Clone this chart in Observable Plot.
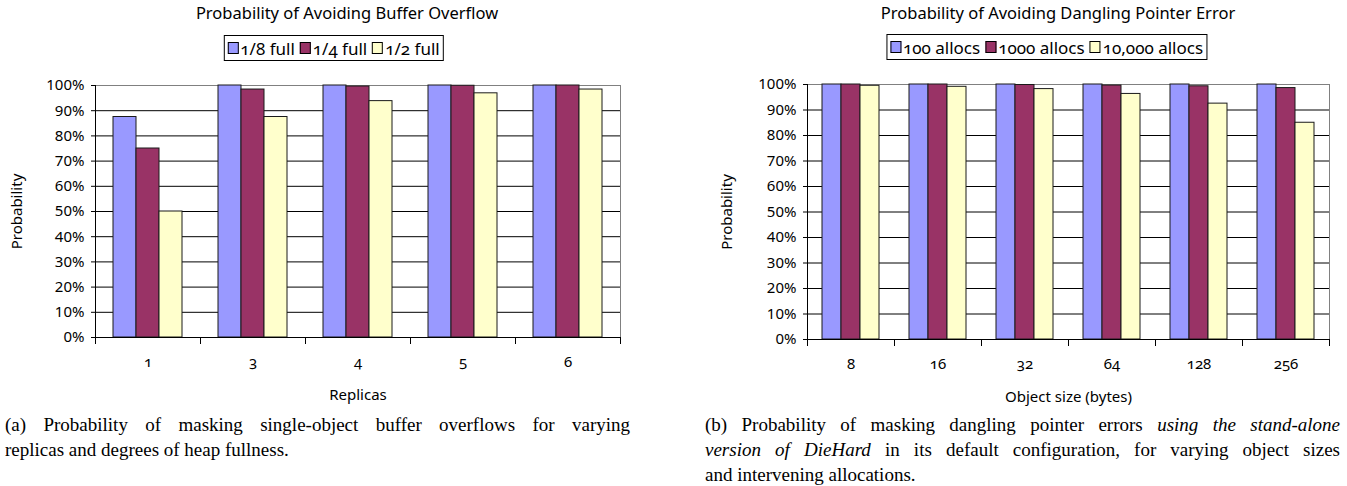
<!DOCTYPE html>
<html>
<head>
<meta charset="utf-8">
<script src="https://cdn.jsdelivr.net/npm/d3@7"></script>
<script src="https://cdn.jsdelivr.net/npm/@observablehq/plot@0.6"></script>
<style>
  html, body { margin: 0; padding: 0; background: #fff; }
  #root { position: relative; width: 1347px; height: 486px; overflow: hidden; font-family: "Noto Sans", sans-serif; color: #000; }
  .chart { position: absolute; }
  .title { position: absolute; transform: translateX(-50%); font-size: 16.5px; line-height: 22px; white-space: nowrap; }
  .legend { position: absolute; transform: translateX(-50%); border: 1px solid #000; background: #fff; display: flex; align-items: center; height: 26px; padding: 0 3px; font-size: 17px; white-space: nowrap; font-variant-numeric: oldstyle-nums; box-sizing: border-box; }
  .legend .item { display: flex; align-items: center; margin-right: 5px; }
  .legend .item:last-child { margin-right: 0; }
  .legend .sw { width: 9px; height: 10px; border: 1px solid #000; margin-right: 2px; }
  .caption { position: absolute; font-family: "Liberation Serif", "Times New Roman", serif; font-size: 19px; line-height: 25px; }
  .caption .ln { text-align: justify; text-align-last: justify; white-space: nowrap; }
  .caption .ln.last { text-align-last: left; }
</style>
</head>
<body>
<div id="root"></div>
<script>
// ---------- data ----------
const yTicks = [0, 10, 20, 30, 40, 50, 60, 70, 80, 90, 100];
const barColors = ["#9999FF", "#993366", "#FFFFCC"];

const replicas = ["1", "3", "4", "5", "6"];
const overflowSeries = ["1/8 full", "1/4 full", "1/2 full"];
const overflowEighth = [87.5, 100, 100, 100, 100];
const overflowQuarter = [75, 98.4, 99.6, 99.9, 100];
const overflowHalf = [50, 87.5, 93.8, 96.9, 98.4];

const objectSizes = ["8", "16", "32", "64", "128", "256"];
const danglingSeries = ["100 allocs", "1000 allocs", "10,000 allocs"];
const dangling100 = [100, 100, 100, 100, 100, 100];
const dangling1000 = [100, 100, 99.8, 99.6, 99.3, 98.6];
const dangling10000 = [99.5, 99.1, 98.2, 96.3, 92.5, 85];

const titleA = "Probability of Avoiding Buffer Overflow";
const titleB = "Probability of Avoiding Dangling Pointer Error";
const xLabelA = "Replicas";
const xLabelB = "Object size (bytes)";
const yLabel = "Probability";

// ---------- chart builder ----------
function makeChart(cats, series, values, o) {
  const rows = cats.flatMap((c, i) => series.map((s, j) => ({cat: c, series: s, value: values[j][i]})));
  const plotH = o.height - o.marginTop - o.marginBottom;
  return Plot.plot({
    width: o.width,
    height: o.height,
    marginLeft: o.marginLeft,
    marginRight: o.marginRight,
    marginTop: o.marginTop,
    marginBottom: o.marginBottom,
    style: {fontFamily: '"Noto Sans", sans-serif', fontSize: "15px", color: "#000", background: "transparent", fontVariantNumeric: "oldstyle-nums", overflow: "visible"},
    fx: {domain: cats, padding: 0, axis: "bottom", tickSize: 0, tickPadding: 19, label: o.xLabel, labelAnchor: "center", labelOffset: 62},
    x: {domain: series, paddingInner: 0, paddingOuter: 0.75, axis: null},
    y: {domain: [0, 100], ticks: yTicks, tickFormat: d => d + "%", tickSize: 4, tickPadding: 7, label: yLabel, labelArrow: "none", labelAnchor: "center", labelOffset: o.yLabelOffset},
    color: {domain: series, range: barColors},
    marks: [
      Plot.ruleY(yTicks.filter(d => d > 0 && d < 100), {stroke: "#000", strokeWidth: 1}),
      Plot.ruleY([100], {stroke: "#808080", strokeWidth: 1}),
      Plot.frame({anchor: "right", stroke: "#808080", facet: "super"}),
      Plot.frame({anchor: "left", stroke: "#000", insetTop: plotH, insetBottom: -6}),
      Plot.frame({anchor: "right", stroke: "#000", insetTop: plotH, insetBottom: -6, facet: "super"}),
      Plot.barY(rows, {fx: "cat", x: "series", y: "value", fill: "series", stroke: "#1a1a1a", strokeWidth: 1}),
      Plot.frame({anchor: "left", stroke: "#000", facet: "super"}),
      Plot.frame({anchor: "bottom", stroke: "#000", facet: "super"})
    ]
  });
}

function addDiv(cls, css, html) {
  const d = document.createElement("div");
  d.className = cls;
  Object.assign(d.style, css);
  if (html != null) d.innerHTML = html;
  document.getElementById("root").appendChild(d);
  return d;
}

function addLegend(series, centerX, top) {
  const lg = addDiv("legend", {left: centerX + "px", top: top + "px"});
  series.forEach((s, i) => {
    const it = document.createElement("span");
    it.className = "item";
    const sw = document.createElement("span");
    sw.className = "sw";
    sw.style.background = barColors[i];
    it.appendChild(sw);
    it.appendChild(document.createTextNode(s));
    lg.appendChild(it);
  });
}

// ---------- left chart ----------
const chartA = makeChart(replicas, overflowSeries, [overflowEighth, overflowQuarter, overflowHalf], {
  width: 650, height: 345, marginLeft: 93, marginRight: 29, marginTop: 15, marginBottom: 78, xLabel: xLabelA, yLabelOffset: 84
});
const boxA = addDiv("chart", {left: "0px", top: "70px"});
boxA.appendChild(chartA);
addDiv("title", {left: "347px", top: "2px"}, titleA);
addLegend(overflowSeries, 333.5, 35);

// ---------- right chart ----------
const chartB = makeChart(objectSizes, danglingSeries, [dangling100, dangling1000, dangling10000], {
  width: 667, height: 345, marginLeft: 125, marginRight: 17, marginTop: 14, marginBottom: 76, xLabel: xLabelB, yLabelOffset: 86
});
const boxB = addDiv("chart", {left: "680px", top: "70px"});
boxB.appendChild(chartB);
addDiv("title", {left: "1058px", top: "2px"}, titleB);
addLegend(danglingSeries, 1046.5, 34);

// ---------- captions ----------
addDiv("caption", {left: "5px", top: "412px", width: "625px"},
  '<div class="ln">(a) Probability of masking single-object buffer overflows for varying</div>' +
  '<div class="ln last">replicas and degrees of heap fullness.</div>');
addDiv("caption", {left: "705px", top: "412px", width: "635px"},
  '<div class="ln">(b) Probability of masking dangling pointer errors <i>using the stand-alone</i></div>' +
  '<div class="ln"><i>version of DieHard</i> in its default configuration, for varying object sizes</div>' +
  '<div class="ln last">and intervening allocations.</div>');
</script>
</body>
</html>
